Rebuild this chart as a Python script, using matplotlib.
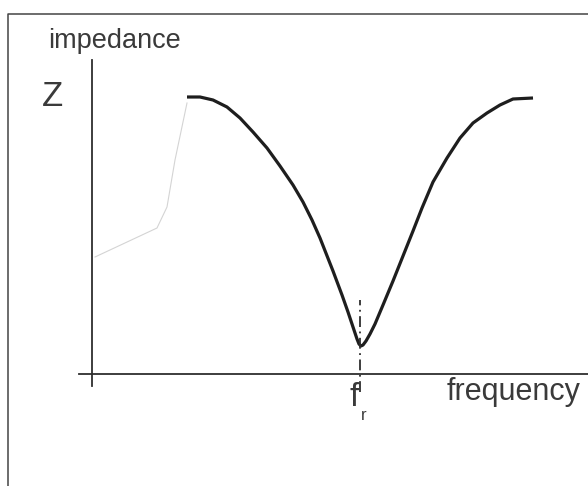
import matplotlib
matplotlib.use("Agg")
import matplotlib.pyplot as plt

# Impedance curve (arbitrary units; origin at the axes crossing)
freq = [95, 108, 121, 135, 148, 161, 175, 188, 201, 211, 220, 228, 241, 250,
        256, 260, 263, 265, 267, 269, 271, 274, 278, 283, 291, 301, 311, 321,
        330, 341, 355, 368, 381, 395, 408, 421, 441]
impedance = [277, 277, 274, 267, 256, 242, 226, 208, 189, 172, 154, 136, 103, 79,
             62, 50, 41, 35, 30, 28, 29, 33, 40, 50, 69, 93, 118, 143,
             166, 192, 216, 236, 251, 261, 269, 275, 276]

# faint scan trace at left
trace_f = [3, 65, 75, 83, 95]
trace_z = [117, 146, 167, 214, 271]

f_res = 268
x_label = "frequency"
y_label = "impedance"
y_symbol = "Z"

fig = plt.figure(figsize=(5.88, 4.86), dpi=100)
ax = fig.add_axes([0, 0, 1, 1])
ax.set_xlim(-92, 496)
ax.set_ylim(-112, 374)
ax.axis("off")

ink = "#2e2e2e"
# frame of the scanned page
ax.plot([-84, -84, 496], [-112, 360, 360], color="#444444", lw=1.1, solid_capstyle="butt")

# axes
ax.plot([-13, 496], [0, 0], color=ink, lw=1.3)
ax.plot([0, 0], [-12, 314], color=ink, lw=1.3)

# faint trace
ax.plot(trace_f, trace_z, color="#d4d4d4", lw=0.8)

# curve
ax.plot(freq, impedance, color="#1e1e1e", lw=2.3, solid_capstyle="butt", solid_joinstyle="round")

# resonance marker
ax.plot([f_res, f_res], [-18, 74], color=ink, lw=1.3, linestyle=(0, (6, 2.5, 1, 2.5)))

txt = "#3a3a3a"
ax.text(-44, 326, y_label, fontsize=19.5, family="Liberation Sans", color=txt, va="baseline", ha="left")
ax.text(-50, 268, y_symbol, fontsize=25, family="Liberation Sans", color=txt, va="baseline", ha="left")
ax.text(355, -26, x_label, fontsize=22, family="Liberation Sans", color=txt, va="baseline", ha="left")
ax.text(258, -32, "f", fontsize=24, family="Liberation Sans", color=txt, va="baseline", ha="left")
ax.text(269, -46, "r", fontsize=12, family="Liberation Sans", color=txt, va="baseline", ha="left")

fig.savefig("out.png", dpi=100)
